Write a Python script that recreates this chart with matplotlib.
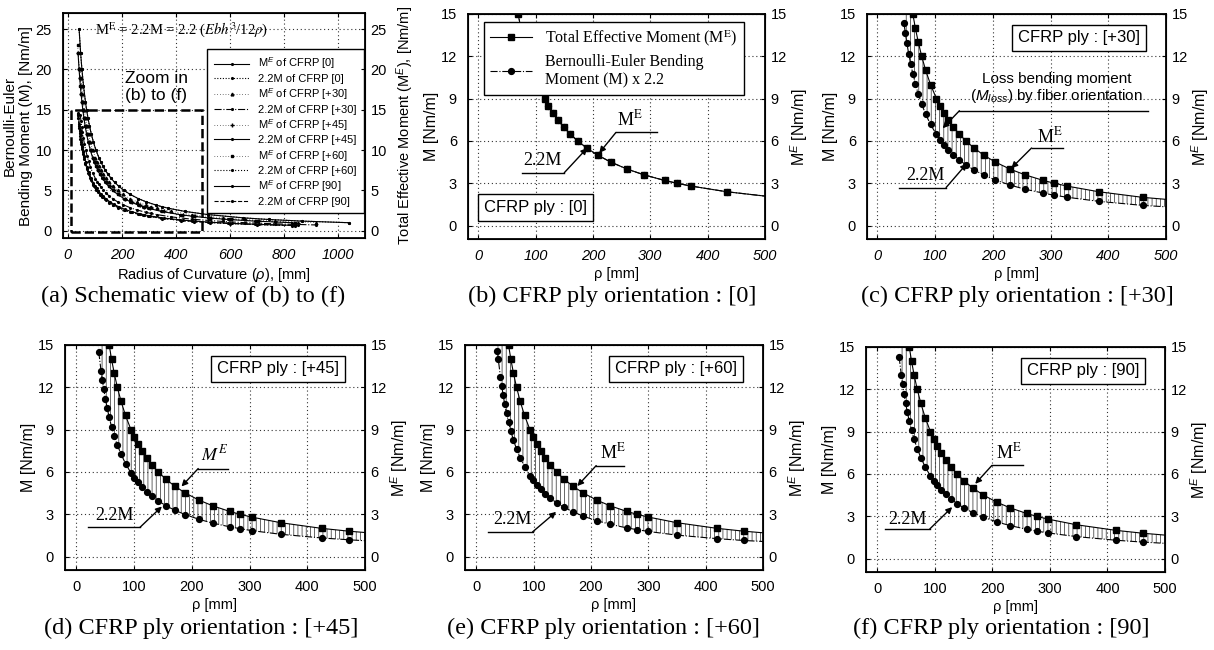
import matplotlib
matplotlib.use('Agg')
import matplotlib.pyplot as plt
from matplotlib.patches import Rectangle
from matplotlib.font_manager import FontProperties

plt.rcParams['font.family'] = 'Liberation Sans'
plt.rcParams['mathtext.fontset'] = 'custom'
plt.rcParams['mathtext.rm'] = 'Liberation Sans'
plt.rcParams['mathtext.it'] = 'Liberation Sans:italic'
plt.rcParams['mathtext.bf'] = 'Liberation Sans:bold'
plt.rcParams['hatch.linewidth'] = 0.6
plt.rcParams['hatch.color'] = '0.3'

# radius of curvature (mm) and moments (Nm/m)
rho_0 = [41.6, 47.3, 52, 57.8, 65, 69.3, 74.3, 80, 86.7, 94.5, 104, 115.6, 122.4, 130, 138.7, 148.6,
         160, 173.3, 189.1, 208, 231.1, 260, 288.9, 325, 346.7, 371.4, 433.3, 520, 650, 742.9, 866.7, 1040]
me_0 = [25, 22, 20, 18, 16, 15, 14, 13, 12, 11, 10, 9, 8.5, 8, 7.5, 7, 6.5, 6, 5.5, 5, 4.5, 4,
        3.6, 3.2, 3.0, 2.8, 2.4, 2.0, 1.6, 1.4, 1.2, 1.0]
m22_0 = [25, 22, 20, 18, 16, 15, 14, 13, 12, 11, 10, 9, 8.5, 8, 7.5, 7, 6.5, 6, 5.5, 5, 4.5, 4,
         3.6, 3.2, 3.0, 2.8, 2.4, 2.0, 1.6, 1.4, 1.2, 1.0]

rho_30 = [46, 48.4, 51.1, 54.1, 57.5, 61.3, 65.7, 70.8, 76.7, 83.6, 92, 102.2, 108.2, 115, 122.7, 131.4,
          141.5, 153.3, 167.3, 184, 204.4, 230, 255.6, 287.5, 306.7, 328.6, 383.3, 460, 575, 657.1, 766.7, 920]
me_30 = [20, 19, 18, 17, 16, 15, 14, 13, 12, 11, 10, 9, 8.5, 8, 7.5, 7, 6.5, 6, 5.5, 5, 4.5, 4,
         3.6, 3.2, 3.0, 2.8, 2.4, 2.0, 1.6, 1.4, 1.2, 1.0]
m22_30 = [14.35, 13.62, 12.91, 12.19, 11.48, 10.76, 10.04, 9.33, 8.61, 7.89, 7.17, 6.46, 6.10, 5.74, 5.38,
          5.02, 4.66, 4.30, 3.95, 3.59, 3.23, 2.87, 2.58, 2.30, 2.15, 2.01, 1.72, 1.43, 1.15, 1.00, 0.86, 0.72]

rho_45 = [38.6, 42.5, 44.7, 47.2, 50, 53.1, 56.7, 60.7, 65.4, 70.8, 77.3, 85, 94.4, 100, 106.3, 113.3, 121.4,
          130.8, 141.7, 154.5, 170, 188.9, 212.5, 236.1, 265.6, 283.3, 303.6, 354.2, 425, 472.2, 531.3, 607.1,
          708.3, 850]
me_45 = [22, 20, 19, 18, 17, 16, 15, 14, 13, 12, 11, 10, 9, 8.5, 8, 7.5, 7, 6.5, 6, 5.5, 5, 4.5, 4,
         3.6, 3.2, 3.0, 2.8, 2.4, 2.0, 1.8, 1.6, 1.4, 1.2, 1.0]
m22_45 = [14.5, 13.18, 12.52, 11.86, 11.2, 10.54, 9.88, 9.22, 8.56, 7.91, 7.25, 6.59, 5.93, 5.6, 5.27, 4.94,
          4.61, 4.28, 3.95, 3.62, 3.29, 2.97, 2.64, 2.37, 2.11, 1.98, 1.84, 1.58, 1.32, 1.19, 1.05, 0.92,
          0.79, 0.66]

rho_60 = [36.5, 38.2, 42, 44.2, 46.7, 49.4, 52.5, 56, 60, 64.6, 70, 76.4, 84, 93.3, 98.8, 105, 112, 120,
          129.2, 140, 152.7, 168, 186.7, 210, 233.3, 262.5, 280, 300, 350, 420, 466.7, 525, 600, 700, 840]
me_60 = [23, 22, 20, 19, 18, 17, 16, 15, 14, 13, 12, 11, 10, 9, 8.5, 8, 7.5, 7, 6.5, 6, 5.5, 5, 4.5, 4,
         3.6, 3.2, 3.0, 2.8, 2.4, 2.0, 1.8, 1.6, 1.4, 1.2, 1.0]
m22_60 = [14.6, 13.97, 12.7, 12.07, 11.43, 10.8, 10.16, 9.53, 8.89, 8.26, 7.62, 6.99, 6.35, 5.72, 5.4, 5.08,
          4.76, 4.45, 4.13, 3.81, 3.49, 3.18, 2.86, 2.54, 2.29, 2.03, 1.91, 1.78, 1.52, 1.27, 1.14, 1.02,
          0.89, 0.76, 0.64]

rho_90 = [37.7, 41.5, 43.7, 46.1, 48.8, 51.9, 55.3, 59.3, 63.8, 69.2, 75.5, 83, 92.2, 97.6, 103.8, 110.7,
          118.6, 127.7, 138.3, 150.9, 166, 184.4, 207.5, 230.6, 259.4, 276.7, 296.4, 345.8, 415, 461.1,
          518.8, 592.9, 691.7, 830]
me_90 = [22, 20, 19, 18, 17, 16, 15, 14, 13, 12, 11, 10, 9, 8.5, 8, 7.5, 7, 6.5, 6, 5.5, 5, 4.5, 4,
         3.6, 3.2, 3.0, 2.8, 2.4, 2.0, 1.8, 1.6, 1.4, 1.2, 1.0]
m22_90 = [14.3, 13.0, 12.35, 11.7, 11.05, 10.4, 9.75, 9.1, 8.45, 7.8, 7.15, 6.5, 5.85, 5.53, 5.2, 4.88,
          4.55, 4.23, 3.9, 3.58, 3.25, 2.93, 2.6, 2.34, 2.08, 1.95, 1.82, 1.56, 1.3, 1.17, 1.04, 0.91,
          0.78, 0.65]

plies = ['[0]', '[+30]', '[+45]', '[+60]', '[90]']
captions = ['(a) Schematic view of (b) to (f)', '(b) CFRP ply orientation : [0]',
            '(c) CFRP ply orientation : [+30]', '(d) CFRP ply orientation : [+45]',
            '(e) CFRP ply orientation : [+60]', '(f) CFRP ply orientation : [90]']

fig = plt.figure(figsize=(12.14, 6.5), dpi=100)


def frame(ax, xlim, ylim, xt, yt, xlab, ylab, rlab, xital, lpad=1, rpad=1, lsize=11.5, rsize=11.5):
    ax.set_xlim(*xlim)
    ax.set_ylim(*ylim)
    ax.set_xticks(xt, [str(v) for v in xt], fontstyle='italic' if xital else 'normal')
    ax.set_yticks(yt)
    ax.grid(True, ls=(0, (1, 2.5)), color='0.2', lw=0.8)
    ax.tick_params(direction='in', length=3, width=0.8, labelsize=10.5, top=True)
    ax.tick_params(axis='y', pad=8)
    ax.tick_params(axis='x', pad=7)
    for s in ax.spines.values():
        s.set_linewidth(1.3)
    ax.set_xlabel(xlab, fontsize=10.5, labelpad=3)
    ax.set_ylabel(ylab, fontsize=lsize, labelpad=lpad)
    tw = ax.twinx()
    tw.set_ylim(*ylim)
    tw.set_yticks(yt)
    tw.tick_params(direction='in', length=3, width=0.8, labelsize=10.5, pad=4)
    tw.set_ylabel(rlab, fontsize=rsize, labelpad=rpad)
    return tw


def callout(ax, label, tx, hx0, hx1, hy, cx, tip, ty, style='normal'):
    ax.text(tx, ty, label, ha='center', va='bottom', fontsize=13,
            family='Liberation Serif', math_fontfamily='stix', style=style)
    ax.plot([hx0, hx1], [hy, hy], color='k', lw=1)
    ax.annotate('', xy=tip, xytext=(cx, hy),
                arrowprops=dict(arrowstyle='-|>', color='k', lw=1, mutation_scale=9,
                                shrinkA=0, shrinkB=0))


# ---------- (a) overview ----------
ax_a = fig.add_axes([0.0519, 0.6338, 0.2488, 0.3462])
series_a = [
    (rho_0, me_0, dict(ls='-', marker='.', ms=2.5, lw=0.8), 'M$^E$ of CFRP [0]'),
    (rho_0, m22_0, dict(ls=(0, (1, 1.5)), marker='.', ms=2.5, lw=0.8), '2.2M of CFRP [0]'),
    (rho_30, me_30, dict(ls=(0, (1, 3)), marker='^', ms=2, lw=0.5), 'M$^E$ of CFRP [+30]'),
    (rho_30, m22_30, dict(ls='-.', marker='.', ms=2.5, lw=0.8), '2.2M of CFRP [+30]'),
    (rho_45, me_45, dict(ls=(0, (1, 3)), marker='+', ms=3, lw=0.5), 'M$^E$ of CFRP [+45]'),
    (rho_45, m22_45, dict(ls='-', marker='.', ms=2.5, lw=0.8), '2.2M of CFRP [+45]'),
    (rho_60, me_60, dict(ls=(0, (1, 3)), marker='s', ms=1.5, lw=0.5), 'M$^E$ of CFRP [+60]'),
    (rho_60, m22_60, dict(ls=':', marker='.', ms=2.5, lw=0.8), '2.2M of CFRP [+60]'),
    (rho_90, me_90, dict(ls='-', marker='.', ms=2.5, lw=0.8), 'M$^E$ of CFRP [90]'),
    (rho_90, m22_90, dict(ls='--', marker='.', ms=2.5, lw=0.8), '2.2M of CFRP [90]'),
]
for x, y, kw, lab in series_a:
    ax_a.plot(x, y, color='k', label=lab, **kw)
frame(ax_a, (-18, 1100), (-0.9, 27), [0, 200, 400, 600, 800, 1000], [0, 5, 10, 15, 20, 25],
      r'Radius of Curvature ($\rho$), [mm]', 'Bernoulli-Euler\nBending Moment (M), [Nm/m]',
      'Total Effective Moment (M$^E$), [Nm/m]', True, lpad=2, rpad=5, lsize=11, rsize=10.5)
ax_a.add_patch(Rectangle((10, -0.2), 485, 15.2, fill=False, ls='--', lw=1.8, color='k', zorder=3))
ax_a.text(327, 17.8, 'Zoom in\n(b) to (f)', ha='center', va='center', fontsize=12.5, linespacing=1.2)
ax_a.text(100, 25, r'M$^\mathrm{E}$ = 2.2M = 2.2 ($Ebh^3$/12$\rho$)', ha='left', va='center',
          fontsize=10.5, family='Liberation Serif', math_fontfamily='stix')
leg = ax_a.legend(loc='upper right', bbox_to_anchor=(0.995, 0.84), borderaxespad=0, fontsize=8,
                  handlelength=3.2, labelspacing=0.22, borderpad=0.6, fancybox=False,
                  edgecolor='k', framealpha=1)
leg.get_frame().set_linewidth(1)

# ---------- (b)-(f) zoomed panels ----------
pos = [[0.3855, 0.6323, 0.2446, 0.3462], [0.7142, 0.6323, 0.2463, 0.3462],
       [0.0535, 0.1231, 0.2471, 0.3462], [0.383, 0.1231, 0.2455, 0.3462],
       [0.7133, 0.12, 0.2463, 0.3462]]
data = [(rho_0, me_0, m22_0), (rho_30, me_30, m22_30), (rho_45, me_45, m22_45),
        (rho_60, me_60, m22_60), (rho_90, me_90, m22_90)]
axes = []
for i, (p, (x, me, m22)) in enumerate(zip(pos, data)):
    ax = fig.add_axes(p)
    axes.append(ax)
    if i > 0:
        ax.fill_between(x, m22, me, facecolor='none', hatch='||||', edgecolor='0.3', lw=0)
    ax.plot(x, me, color='k', ls='-', lw=0.8, marker='s', ms=3.8, label='Total Effective Moment (M$^\\mathrm{E}$)')
    ax.plot(x, m22, color='k', ls='-.', lw=0.8, marker='o', ms=4.2,
            label='Bernoulli-Euler Bending\nMoment (M) x 2.2')
    frame(ax, (-18 if i < 2 else -20, 500), (-0.95, 15), [0, 100, 200, 300, 400, 500],
          [0, 3, 6, 9, 12, 15], 'ρ [mm]', 'M [Nm/m]', 'M$^E$ [Nm/m]', i < 2)

ax_b, ax_c, ax_d, ax_e, ax_f = axes

lg = ax_b.legend(loc='upper left', bbox_to_anchor=(0.054, 0.964), borderaxespad=0, fancybox=False,
                 edgecolor='k', framealpha=1, handlelength=2.6, labelspacing=0.35,
                 prop=FontProperties(family='Liberation Serif', size=11.5, math_fontfamily='stix'))
lg.get_frame().set_linewidth(1)
lg.set_zorder(10)

box = dict(boxstyle='square,pad=0.35', fc='white', ec='k', lw=1)
ax_b.text(10, 1.3, 'CFRP ply : ' + plies[0], ha='left', va='center', fontsize=12, bbox=box, zorder=10)
for ax, ply in zip([ax_c, ax_d, ax_e, ax_f], plies[1:]):
    ax.text(455, 13.3, 'CFRP ply : ' + ply, ha='right', va='center', fontsize=12, bbox=box, zorder=10)

E = r'M$^\mathrm{E}$'
callout(ax_b, '2.2M', 112, 77, 150, 3.75, 150, (190, 5.5), 4.0)
callout(ax_b, E, 265, 240, 312, 6.6, 240, (211, 5.15), 6.85)
callout(ax_c, '2.2M', 83, 37, 119, 2.7, 119, (155, 4.4), 2.95)
callout(ax_c, E, 298, 267, 321, 5.5, 267, (232, 4.07), 5.6)
ax_c.text(311, 9.7, 'Loss bending moment\n($M_{loss}$) by fiber orientation', ha='center',
          va='center', fontsize=11, linespacing=1.1)
ax_c.plot([142, 469], [8.14, 8.14], color='k', lw=1)
ax_c.annotate('', xy=(113, 6.9), xytext=(142, 8.14),
              arrowprops=dict(arrowstyle='-|>', color='k', lw=1, mutation_scale=9, shrinkA=0, shrinkB=0))
callout(ax_d, '2.2M', 66, 20, 110, 2.07, 110, (148, 3.55), 2.3)
callout(ax_d, r'$M^E$', 240, 211, 262, 6.24, 211, (182, 4.97), 6.5)
callout(ax_e, '2.2M', 62, 20, 98, 1.75, 98, (139, 3.17), 2.05)
callout(ax_e, E, 238, 209, 258, 6.45, 209, (176, 5.0), 6.7)
callout(ax_f, '2.2M', 52, 13, 91, 2.1, 91, (130, 3.65), 2.2)
callout(ax_f, E, 228, 199, 253, 6.6, 199, (170, 5.3), 6.85)

cap_xy = [(0.159, 0.5446), (0.504, 0.5446), (0.838, 0.5446),
          (0.1656, 0.0338), (0.4967, 0.0338), (0.8245, 0.0338)]
for (cx, cy), c in zip(cap_xy, captions):
    fig.text(cx, cy, c, ha='center', va='center', family='Liberation Serif', fontsize=17.5)

fig.savefig('out.png', dpi=100)
